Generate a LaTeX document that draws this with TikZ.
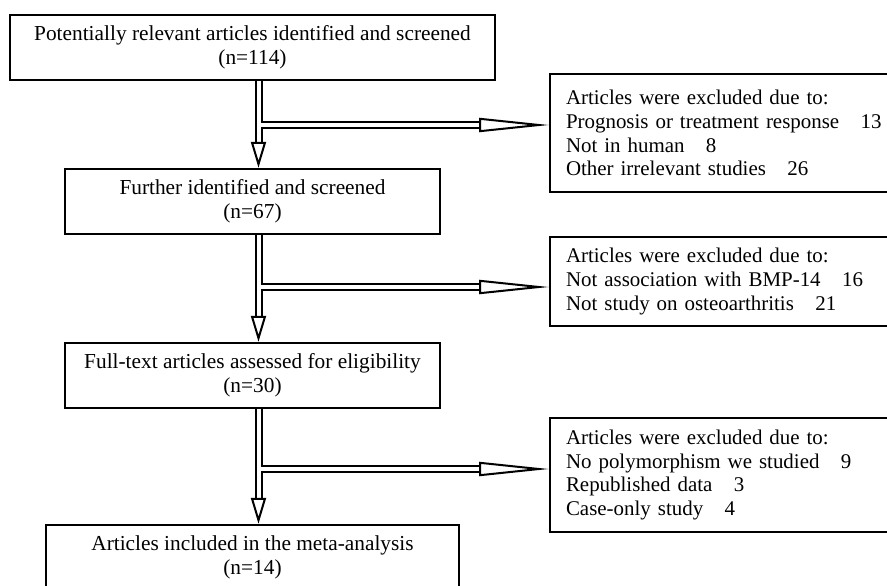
\documentclass[tikz,border=0pt]{standalone}
\usepackage{fontspec}
\setmainfont{Liberation Serif}
\usetikzlibrary{positioning,arrows.meta}

\tikzset{
  stage/.style={draw, line width=1.5pt, align=center, minimum height=49pt,
    font=\fontsize{16pt}{18pt}\selectfont},
  excluded/.style={draw, line width=1.5pt, align=left, anchor=west,
    text width=300pt, inner xsep=12pt, font=\fontsize{15.7pt}{17.8pt}\selectfont},
  flow/.style={double, double distance=3pt, line width=1.5pt,
    -{Triangle[open, length=19.5pt, width=11.25pt]}},
  branch/.style={double, double distance=3pt, line width=1.5pt,
    -{Triangle[open, length=52.5pt, width=10.5pt]}}
}

\begin{document}
\begin{tikzpicture}[x=0.75pt,y=-0.75pt]
  \useasboundingbox (0,0) rectangle (887,585);

  \node[stage, minimum width=363.75pt] (identified) at (252.5,47.5) {Potentially relevant articles identified and screened\\(n=114)};
  \node[stage, minimum width=281.25pt, below=65pt of identified] (further) {Further identified and screened\\(n=67)};
  \node[stage, minimum width=281.25pt, below=80pt of further] (fulltext) {Full-text articles assessed for eligibility\\(n=30)};
  \node[stage, minimum width=309.75pt, below=86pt of fulltext] (included) {Articles included in the meta-analysis\\(n=14)};

  \node[excluded, minimum height=88.5pt] (excl1) at (549,133) {Articles were excluded due to:\\
    Prognosis or treatment response\hspace{16pt}13\\
    Not in human\hspace{16pt}8\\
    Other irrelevant studies\hspace{16pt}26};
  \node[excluded, minimum height=66.75pt] (excl2) at (549,281.5) {Articles were excluded due to:\\
    Not association with BMP-14\hspace{16pt}16\\
    Not study on osteoarthritis\hspace{16pt}21};
  \node[excluded, minimum height=85.5pt] (excl3) at (549,475) {Articles were excluded due to:\\
    No polymorphism we studied\hspace{16pt}9\\
    Republished data\hspace{16pt}3\\
    Case-only study\hspace{16pt}4};

  \coordinate (split1) at (258.5,125);
  \coordinate (split2) at (258.5,287);
  \coordinate (split3) at (258.5,469);

  \draw[flow] (identified.south -| split1) -- (further.north -| split1);
  \draw[flow] (further.south -| split2) -- (fulltext.north -| split2);
  \draw[flow] (fulltext.south -| split3) -- (included.north -| split3);

  \draw[branch] ([xshift=1.5pt]split1) -- (split1 -| excl1.west);
  \draw[branch] ([xshift=1.5pt]split2) -- (split2 -| excl2.west);
  \draw[branch] ([xshift=1.5pt]split3) -- (split3 -| excl3.west);
\end{tikzpicture}
\end{document}
